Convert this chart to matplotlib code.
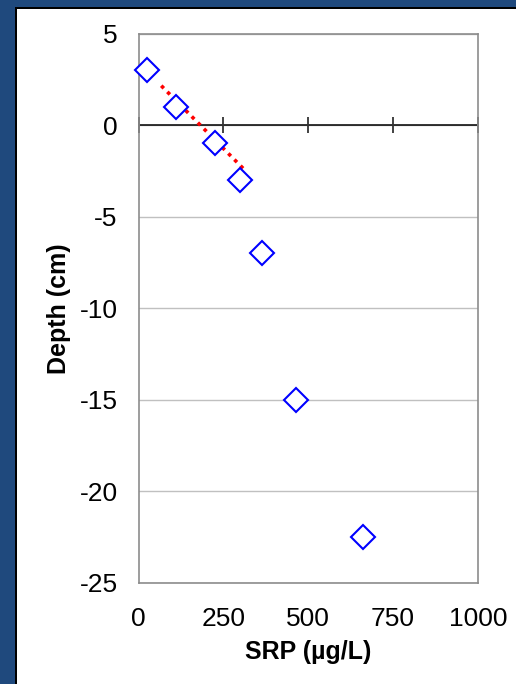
import matplotlib.pyplot as plt
from matplotlib.patches import Rectangle

# data
srp = [25, 110, 225, 300, 365, 465, 660]
depth = [3, 1, -1, -3, -7, -15, -22.5]

# trend line over the top samples (endpoints as drawn)
trend_x = [67, 318]
trend_y = [2.15, -2.55]

x_ticks = [0, 250, 500, 750, 1000]
y_ticks = [-25, -20, -15, -10, -5, 0, 5]

BORDER_BLUE = '#1F497D'
FRAME_GRAY = '#8C8C8C'
GRID_GRAY = '#C0C0C0'

plt.rcParams['font.family'] = ['Liberation Sans', 'DejaVu Sans']
plt.rcParams['axes.unicode_minus'] = False  # plain hyphen like the original

fig = plt.figure(figsize=(5.16, 6.84), dpi=100)
fig.patch.set_facecolor(BORDER_BLUE)

# white slide panel with a thin dark shadow on top/left
W, H = 516, 684
fig.patches.append(Rectangle((15 / W, 0), 1, (H - 7) / H, transform=fig.transFigure,
                             facecolor='black', edgecolor='none', zorder=-2))
fig.patches.append(Rectangle((17 / W, 0), 1, (H - 9) / H, transform=fig.transFigure,
                             facecolor='white', edgecolor='none', zorder=-1))

ax = fig.add_axes([138.5 / W, 1 - 583 / H, (478 - 138.5) / W, (583 - 33.5) / H])
ax.set_zorder(1)
ax.set_facecolor('white')

ax.set_xlim(0, 1000)
ax.set_ylim(-25, 5)
ax.set_xticks(x_ticks)
ax.set_yticks(y_ticks)

# horizontal gridlines only
ax.yaxis.grid(True, color=GRID_GRAY, linewidth=1.0, zorder=0)
ax.xaxis.grid(False)

for spine in ax.spines.values():
    spine.set_color(FRAME_GRAY)
    spine.set_linewidth(1.2)

# the x axis line sits at depth 0 with cross ticks, labels stay at the bottom
ax.axhline(0, color='black', linewidth=1.1, zorder=2)
ax.plot(x_ticks, [0] * len(x_ticks), linestyle='none', marker='|', markersize=11.5,
        markeredgewidth=1.3, color='#333333', clip_on=False, zorder=2)

ax.tick_params(axis='x', length=0, labelsize=19, pad=17, colors='black')
ax.tick_params(axis='y', length=0, labelsize=19, pad=15, colors='black')

# trend line and samples
ax.plot(trend_x, trend_y, color='#FF0000', linewidth=2.6, linestyle=(0, (1, 1.4)), zorder=3)
ax.plot(srp, depth, linestyle='none', marker='D', markersize=12, markerfacecolor='white',
        markeredgecolor='#0000FF', markeredgewidth=1.5, clip_on=False, zorder=4)

ax.set_xlabel('SRP (µg/L)', fontsize=18, fontweight='bold', labelpad=7)
ax.set_ylabel('Depth (cm)', fontsize=18, fontweight='bold', labelpad=6.5)

fig.savefig('out.png', dpi=100, facecolor=fig.get_facecolor())
